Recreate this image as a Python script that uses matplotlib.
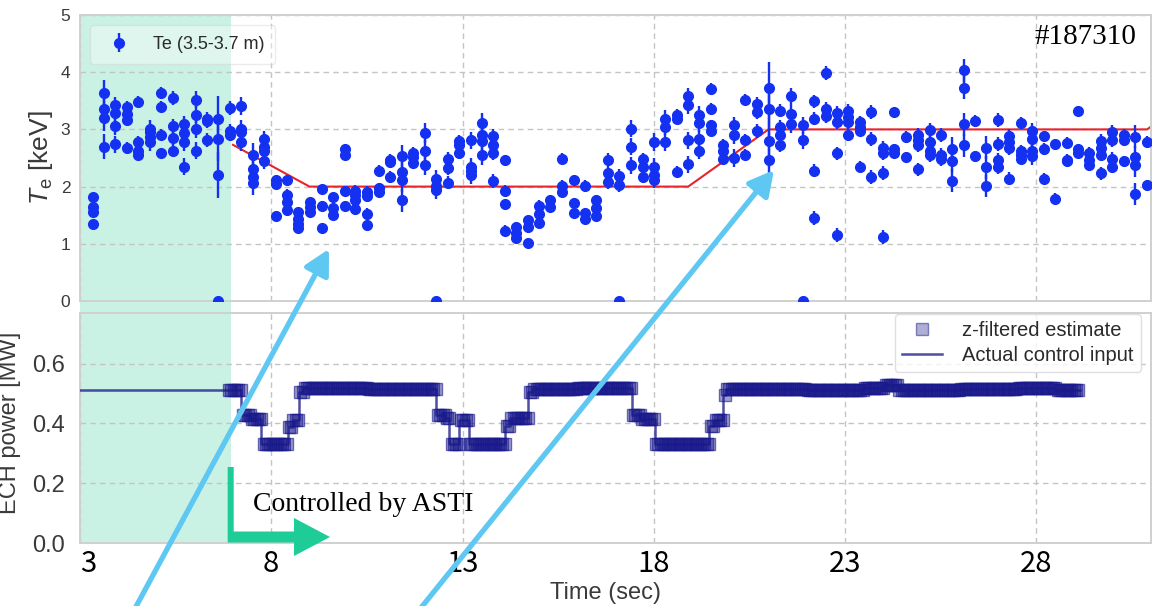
import numpy as np
import matplotlib
matplotlib.use("Agg")
import matplotlib.pyplot as plt
import matplotlib.transforms as mtrans
from matplotlib.patches import Rectangle, Polygon, FancyArrowPatch
from matplotlib.lines import Line2D

plt.rcParams['font.family'] = ['Liberation Sans', 'DejaVu Sans']
plt.rcParams['mathtext.fontset'] = 'custom'
plt.rcParams['mathtext.rm'] = 'Liberation Sans'
plt.rcParams['mathtext.it'] = 'Liberation Sans:italic'

# ---------------- data ----------------
te_t = [3.33, 3.64, 3.92, 4.23, 4.52, 4.83, 5.13, 5.42, 5.73, 6.03, 6.32, 6.62,
        6.93, 7.22, 7.51, 7.81, 8.12, 8.42, 8.71, 9.01, 9.32, 9.62, 9.93, 10.20,
        10.51, 10.81, 11.11, 11.41, 11.71, 12.01, 12.31, 12.62, 12.90, 13.21, 13.51,
        13.80, 14.10, 14.40, 14.71, 15.01, 15.29, 15.60, 15.91, 16.21, 16.49, 16.80,
        17.10, 17.41, 17.71, 18.00, 18.30, 18.61, 18.90, 19.19, 19.50, 19.80, 20.11,
        20.39, 20.69, 21.00, 21.29, 21.60, 21.89, 22.20, 22.50, 22.79, 23.09, 23.39,
        23.69, 23.99, 24.29, 24.60, 24.90, 25.21, 25.50, 25.80, 26.10, 26.39, 26.69,
        26.99, 27.30, 27.60, 27.89, 28.19, 28.50, 28.80, 29.09, 29.39, 29.69, 29.99,
        30.29, 30.58, 30.89]
te_vals = [
    [1.82, 1.65, 1.56, 1.35], [3.64, 3.36, 3.20, 2.70], [3.42, 3.28, 3.06, 2.74],
    [3.39, 3.27, 3.16, 2.68], [3.48, 2.78, 2.63, 2.55], [3.01, 2.95, 2.87, 2.78],
    [3.64, 3.40, 2.91, 2.58], [3.55, 3.06, 2.85, 2.63], [3.09, 2.94, 2.78, 2.35],
    [3.52, 3.26, 3.00, 2.63], [3.19, 3.15, 2.81], [3.19, 2.84, 2.20],
    [3.37, 2.98, 2.91], [3.41, 3.01, 2.95, 2.78], [2.56, 2.31, 2.17, 2.06],
    [2.83, 2.69, 2.63, 2.45], [2.12, 2.04, 1.49], [2.11, 1.85, 1.73, 1.59],
    [1.56, 1.44, 1.35, 1.27], [1.73, 1.65, 1.56], [1.95, 1.66, 1.28],
    [1.81, 1.62, 1.50], [2.66, 2.56, 1.93, 1.66], [1.92, 1.85, 1.76, 1.60],
    [1.91, 1.83, 1.52, 1.33], [2.27, 1.97, 1.91], [2.47, 2.43, 2.17],
    [2.53, 2.26, 2.11, 1.76], [2.59, 2.52, 2.41], [2.94, 2.63, 2.38],
    [2.14, 2.01, 1.94], [2.48, 2.33, 2.07], [2.80, 2.72, 2.59],
    [2.81, 2.35, 2.28, 2.20], [3.11, 2.91, 2.80, 2.55], [2.88, 2.72, 2.58, 2.10],
    [2.46, 1.92, 1.69, 1.23], [1.30, 1.19, 1.11], [1.41, 1.30, 1.02],
    [1.66, 1.52, 1.37], [1.77, 1.65], [2.49, 2.01, 1.91], [2.12, 1.72, 1.53],
    [2.01, 1.53, 1.44], [1.77, 1.62, 1.48], [2.47, 2.23, 2.08], [2.18, 2.02],
    [3.01, 2.70, 2.37], [2.49, 2.34, 2.17], [2.78, 2.35, 2.20, 2.12],
    [3.19, 3.05, 2.78], [3.26, 3.19, 2.26], [3.58, 3.42, 2.81, 2.39],
    [3.26, 3.11, 2.84, 2.63], [3.71, 3.36, 3.07, 2.98], [2.72, 2.62, 2.49],
    [3.07, 2.90, 2.50], [3.52, 2.82, 2.56], [3.44, 3.30, 2.97],
    [3.72, 3.36, 2.80, 2.47], [3.33, 3.04, 2.90, 2.72], [3.58, 3.27, 3.09],
    [3.07, 2.81], [3.49, 3.19, 2.28, 1.45], [3.98, 3.36, 3.24],
    [3.29, 3.13, 2.58, 1.16], [3.33, 3.22, 3.13, 2.91], [3.13, 3.05, 2.98, 2.35],
    [3.30, 2.83, 2.17], [2.68, 2.58, 2.24, 1.12], [3.30, 2.66, 2.58],
    [2.87, 2.51], [2.90, 2.81, 2.72, 2.30], [2.99, 2.78, 2.63, 2.55],
    [2.90, 2.55, 2.48], [2.66, 2.45, 2.10], [4.03, 3.73, 3.09, 2.72],
    [3.15, 2.53], [2.68, 2.34, 2.01], [3.16, 2.74, 2.46, 2.34],
    [2.88, 2.78, 2.68, 2.14], [3.11, 2.62, 2.55, 2.49], [2.97, 2.84, 2.63, 2.53],
    [2.88, 2.66, 2.14], [2.74, 1.79], [2.76, 2.47, 2.44], [3.33, 2.66, 2.59],
    [2.59, 2.47, 2.37], [2.80, 2.68, 2.56, 2.23], [2.95, 2.81, 2.49, 2.35],
    [2.91, 2.81, 2.44], [2.87, 2.51, 2.37, 1.87], [2.78, 2.02]]
te_err = [0.04, 0.22, 0.15, 0.10, 0.10, 0.15, 0.10, 0.12, 0.15, 0.15, 0.12, 0.40,
          0.12, 0.15, 0.20, 0.15, 0.08, 0.10, 0.08, 0.08, 0.08, 0.08, 0.08, 0.10,
          0.10, 0.10, 0.10, 0.20, 0.10, 0.18, 0.15, 0.12, 0.10, 0.15, 0.18, 0.12,
          0.10, 0.08, 0.08, 0.10, 0.08, 0.10, 0.08, 0.10, 0.08, 0.12, 0.12, 0.15,
          0.10, 0.15, 0.15, 0.10, 0.15, 0.15, 0.10, 0.12, 0.15, 0.10, 0.12, 0.45,
          0.12, 0.15, 0.15, 0.12, 0.12, 0.12, 0.12, 0.10, 0.12, 0.12, 0.08, 0.10,
          0.12, 0.12, 0.12, 0.20, 0.20, 0.10, 0.20, 0.12, 0.12, 0.10, 0.15, 0.10,
          0.10, 0.10, 0.08, 0.10, 0.12, 0.12, 0.10, 0.20, 0.10]
te_zero_t = [6.62, 12.31, 17.10, 21.89]

target_t = [7.0, 9.0, 18.9, 21.0, 30.9, 31.0]
target_te = [2.73, 2.0, 2.0, 3.0, 3.0, 3.05]

# ECH power: control steps (segment start time, level)
ech_step_t = [3.0, 7.22, 7.45, 7.74, 8.43, 8.57, 8.72, 8.83, 10.5, 12.31, 12.55,
              12.66, 12.90, 13.18, 14.10, 14.23, 14.70, 14.82, 16.0, 17.43, 17.64,
              18.03, 19.45, 19.58, 19.80, 19.90, 22.0, 23.5, 24.0, 24.4, 26.0,
              27.5, 28.5]
ech_step_p = [0.512, 0.427, 0.415, 0.330, 0.388, 0.410, 0.505, 0.518, 0.515, 0.427,
              0.417, 0.330, 0.410, 0.330, 0.390, 0.417, 0.505, 0.515, 0.518, 0.427,
              0.414, 0.331, 0.392, 0.411, 0.495, 0.515, 0.512, 0.518, 0.527, 0.513,
              0.515, 0.518, 0.512]
ech_end = 29.15
est_start = 6.9
est_dt = 0.06

xticks = [3, 8, 13, 18, 23, 28]

# ---------------- figure ----------------
W, H = 1153, 606
fig = plt.figure(figsize=(W / 100, H / 100), dpi=100)
ax1 = fig.add_axes([80 / W, 1 - 301 / H, 1071 / W, 286 / H])
ax2 = fig.add_axes([80 / W, 1 - 543 / H, 1071 / W, 230 / H])

mint = '#c9f1e4'
gridc = '#c4c4c4'
for ax in (ax1, ax2):
    ax.set_facecolor('white')
    ax.set_xlim(3, 31)
    ax.set_xticks(xticks)
    ax.grid(True, ls=(0, (4, 3)), color=gridc, lw=1.0)
    ax.set_axisbelow(True)
    for s in ax.spines.values():
        s.set_color('#d0d0d0')
        s.set_linewidth(1.4)
    ax.tick_params(length=0)
    ax.axvspan(3, 6.94, color=mint, zorder=0.5, lw=0)

# gap shading between panels
tr = mtrans.blended_transform_factory(ax2.transData, fig.transFigure)
fig.add_artist(Rectangle((3, 1 - 313 / H), 3.94, 12 / H, transform=tr,
                         color=mint, lw=0, zorder=0))

# ---- top panel ----
blue = '#1431f2'
xs, ys, es = [], [], []
for t, vals, e in zip(te_t, te_vals, te_err):
    for v in vals:
        xs.append(t)
        ys.append(v)
        es.append(e)
ax1.errorbar(xs, ys, yerr=es, fmt='o', color=blue, ms=7, elinewidth=1.7,
             capsize=0, zorder=3, label='Te (3.5-3.7 m)')
ax1.plot(te_zero_t, [0] * len(te_zero_t), 'o', color=blue, ms=7, zorder=3,
         clip_on=True)
ax1.plot(target_t, target_te, color='#e8232a', lw=1.5, zorder=2.5)
ax1.set_ylim(0, 5)
ax1.set_yticks([0, 1, 2, 3, 4, 5])
ax1.set_xticklabels([])
ax1.tick_params(axis='y', labelsize=12.5, labelcolor='#3a3a3a', pad=7)
ax1.set_ylabel(r'$T_\mathrm{e}$ [keV]', fontsize=19, color='#3a3a3a')
ax1.yaxis.set_label_coords(-0.023, 0.5)
leg1 = ax1.legend(loc='upper left', bbox_to_anchor=(0.0093, 0.965), borderaxespad=0,
                  fontsize=13, frameon=True, framealpha=0.4, edgecolor='#cfcfcf',
                  fancybox=True, borderpad=0.6, handletextpad=0.9)
for txt in leg1.get_texts():
    txt.set_color('#2a2a2a')
ax1.text(0.939, 0.923, '#187310', transform=ax1.transAxes, ha='center', va='center',
         fontsize=21, family=['Liberation Serif', 'DejaVu Serif'], color='black')

# ---- bottom panel ----
navy = '#1c1c8c'
edges = list(ech_step_t) + [ech_end]
levels = list(ech_step_p) + [ech_step_p[-1]]
ax2.step(edges, levels, where='post', color=navy, alpha=0.78, lw=1.8, zorder=3)
est_t = np.arange(est_start, ech_end, est_dt)
idx = np.searchsorted(np.array(ech_step_t), est_t, side='right') - 1
est_p = np.array(ech_step_p)[idx]
ax2.plot(est_t, est_p, 's', ms=8.5, mfc=(0.1, 0.1, 0.55, 0.42),
         mec=(0.1, 0.1, 0.55, 0.6), mew=1.0, ls='none', zorder=4)
ax2.set_ylim(0, 0.769)
ax2.set_yticks([0.0, 0.2, 0.4, 0.6])
ax2.set_yticklabels(['0.0', '0.2', '0.4', '0.6'])
ax2.tick_params(axis='y', labelsize=17, labelcolor='#3a3a3a', pad=11)
ax2.set_xticklabels([str(v) for v in xticks])
ax2.tick_params(axis='x', pad=4)
for i, lab in enumerate(ax2.get_xticklabels()):
    lab.set_fontsize(21)
    lab.set_color('black')
    lab.set_family(['Liberation Sans Narrow', 'Noto Sans CJK JP', 'DejaVu Sans'])
    if i == 0:
        lab.set_horizontalalignment('left')
ax2.set_xlabel('Time (sec)', fontsize=17, color='#3a3a3a')
ax2.xaxis.set_label_coords(0.491, -0.17)
ax2.set_ylabel('ECH power [MW]', fontsize=17, color='#3a3a3a')
ax2.yaxis.set_label_coords(-0.055, 0.524)

h_est = Line2D([], [], marker='s', ls='none', ms=9, mfc=(0.11, 0.11, 0.55, 0.35),
               mec=(0.11, 0.11, 0.55, 0.5))
h_ctl = Line2D([], [], color=navy, alpha=0.78, lw=1.8)
leg2 = ax2.legend([h_est, h_ctl], ['z-filtered estimate', 'Actual control input'],
                  loc='upper right', bbox_to_anchor=(0.9907, 0.9957), borderaxespad=0,
                  fontsize=14.5, frameon=True, framealpha=0.8, edgecolor='#d8d8d8',
                  fancybox=True, handletextpad=1.0, borderpad=0.35, labelspacing=0.3)
for txt in leg2.get_texts():
    txt.set_color('#2a2a2a')

ax2.text(7.51, 0.13, 'Controlled by ASTI', fontsize=20, va='center', ha='left',
         family=['Liberation Serif', 'DejaVu Serif'], color='black', zorder=6)

# ---- annotation arrows (figure pixel coords, origin top-left) ----
pix = mtrans.Affine2D().scale(1 / W, -1 / H).translate(0, 1) + fig.transFigure
green = '#1ecc97'
gverts = [(227.7, 467), (233.7, 467), (233.7, 531.5), (294, 531.5), (294, 518),
          (330, 537), (294, 556), (294, 542.5), (227.7, 542.5)]
fig.add_artist(Polygon(gverts, closed=True, transform=pix, color=green, lw=0,
                       zorder=10))
lblue = '#5ec8f2'
for (x0, y0), (x1, y1) in [((118, 640), (329, 249)), ((395, 640), (774, 170))]:
    fig.add_artist(FancyArrowPatch((x0, y0), (x1, y1), transform=pix,
                                   arrowstyle='-|>,head_length=0.75,head_width=0.4',
                                   mutation_scale=20, lw=3.8, color=lblue,
                                   shrinkA=0, shrinkB=0, zorder=11))

fig.savefig('out.png', dpi=100)
